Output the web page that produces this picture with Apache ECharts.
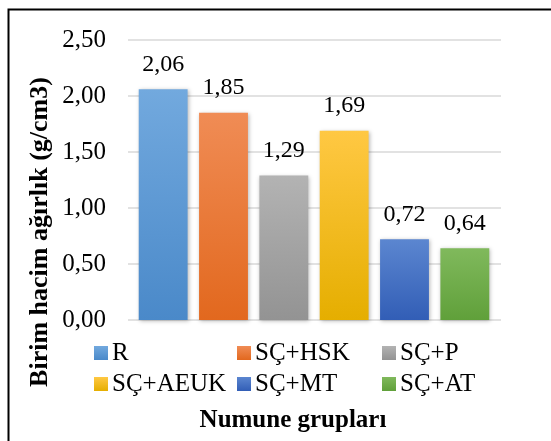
<!DOCTYPE html>
<html>
<head>
<meta charset="utf-8">
<script src="https://cdn.jsdelivr.net/npm/echarts@6/dist/echarts.min.js"></script>
<style>
html,body{margin:0;padding:0;background:#fff;}
#c{width:551px;height:441px;}
</style>
</head>
<body>
<div id="c"></div>
<script>
var categories = ['R', 'SÇ+HSK', 'SÇ+P', 'SÇ+AEUK', 'SÇ+MT', 'SÇ+AT'];
var values = [2.06, 1.85, 1.29, 1.69, 0.72, 0.64];
var yTicks = [0, 0.5, 1.0, 1.5, 2.0, 2.5];
var yAxisTitle = 'Birim hacim ağırlık (g/cm3)';
var xAxisTitle = 'Numune grupları';

var gradTop = ['#72a9de', '#f08c55', '#b3b3b3', '#ffc843', '#5b86d0', '#80b95c'];
var gradBot = ['#4a89c9', '#e2681e', '#939393', '#e5ae00', '#325eb6', '#60a03a'];

var FONT = '"Liberation Serif", "Times New Roman", serif';
function fmt(v){ return Number(v).toFixed(2).replace('.', ','); }

var series = categories.map(function(name, i){
  var d = categories.map(function(_, j){ return j === i ? values[i] : '-'; });
  return {
    name: name,
    type: 'bar',
    stack: 'all',
    xAxisIndex: 1,
    yAxisIndex: 1,
    barWidth: '81%',
    data: d,
    itemStyle: {
      color: new echarts.graphic.LinearGradient(0, 0, 0, 1, [
        {offset: 0, color: gradTop[i]},
        {offset: 1, color: gradBot[i]}
      ]),
      shadowBlur: 4,
      shadowColor: 'rgba(0,0,0,0.28)',
      shadowOffsetX: 1,
      shadowOffsetY: 1
    },
    label: {
      show: true,
      position: 'top',
      distance: 13,
      formatter: function(p){ return fmt(p.value); },
      fontFamily: FONT,
      fontSize: 24,
      color: '#000'
    }
  };
});

function legendCol(names, left){
  return {
    data: names,
    orient: 'vertical',
    left: left,
    top: 340,
    itemWidth: 14,
    itemHeight: 14,
    itemGap: 5,
    padding: 0,
    icon: 'rect',
    textStyle: {fontFamily: FONT, fontSize: 25, color: '#000', padding: [0,0,0,-1], lineHeight: 26},
    selectedMode: false
  };
}

var chart = echarts.init(document.getElementById('c'), null, {renderer: 'canvas'});
chart.setOption({
  animation: false,
  backgroundColor: '#fff',
  grid: [
    {left: 128, right: 50, top: 40, bottom: 121, containLabel: false},
    {left: 133, right: 56, top: 40, bottom: 121, containLabel: false}
  ],
  legend: [
    legendCol([categories[0], categories[3]], 94),
    legendCol([categories[1], categories[4]], 237),
    legendCol([categories[2], categories[5]], 382)
  ],
  xAxis: [
    {
      type: 'category', gridIndex: 0, data: categories,
      axisLine: {show: false}, axisTick: {show: false}, axisLabel: {show: false}
    },
    {
      type: 'category', gridIndex: 1, data: categories,
      axisLine: {show: false}, axisTick: {show: false}, axisLabel: {show: false}
    }
  ],
  yAxis: [
    {
      type: 'value', gridIndex: 0,
      min: yTicks[0], max: yTicks[yTicks.length - 1], interval: 0.5,
      axisLine: {show: false}, axisTick: {show: false},
      axisLabel: {formatter: fmt, fontFamily: FONT, fontSize: 25, color: '#000', margin: 22},
      splitLine: {show: true, lineStyle: {color: '#d9d9d9', width: 1.5}}
    },
    {
      type: 'value', gridIndex: 1,
      min: yTicks[0], max: yTicks[yTicks.length - 1], interval: 0.5,
      axisLine: {show: false}, axisTick: {show: false}, axisLabel: {show: false},
      splitLine: {show: false}
    }
  ],
  graphic: [
    {
      type: 'rect',
      shape: {x: 8.5, y: 9.5, width: 700, height: 600},
      style: {fill: 'none', stroke: '#000', lineWidth: 2},
      silent: true
    },
    {
      type: 'text',
      x: 40, y: 232,
      rotation: Math.PI / 2,
      style: {
        text: yAxisTitle,
        fontFamily: FONT, fontSize: 26, fontWeight: 'bold',
        fill: '#000', align: 'center', verticalAlign: 'middle'
      }
    },
    {
      type: 'text',
      x: 293, y: 421,
      style: {
        text: xAxisTitle,
        fontFamily: FONT, fontSize: 25, fontWeight: 'bold',
        fill: '#000', align: 'center', verticalAlign: 'middle'
      }
    }
  ],
  series: series
});
</script>
</body>
</html>
